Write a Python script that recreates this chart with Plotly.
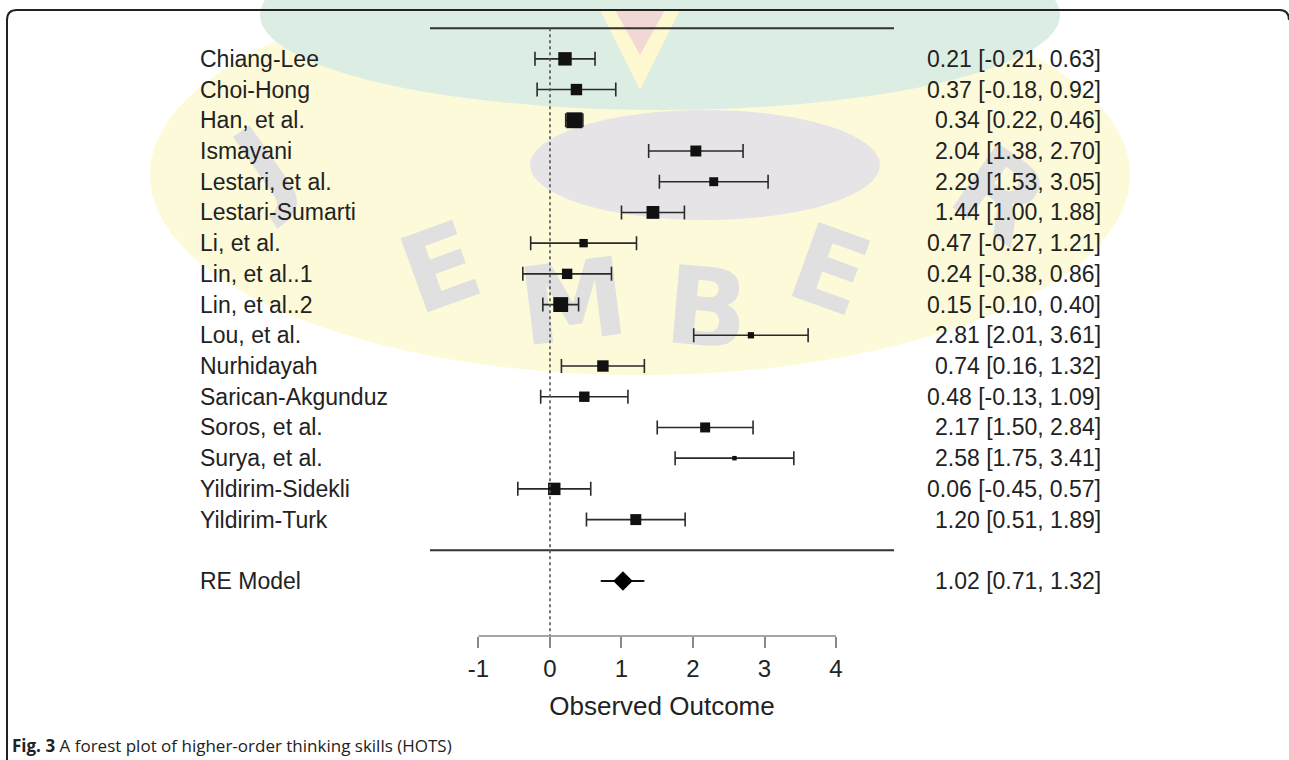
import base64
import plotly.graph_objects as go

# ---------------- data ----------------
studies = ["Chiang-Lee", "Choi-Hong", "Han, et al.", "Ismayani", "Lestari, et al.",
           "Lestari-Sumarti", "Li, et al.", "Lin, et al..1", "Lin, et al..2", "Lou, et al.",
           "Nurhidayah", "Sarican-Akgunduz", "Soros, et al.", "Surya, et al.",
           "Yildirim-Sidekli", "Yildirim-Turk"]
estimate = [0.21, 0.37, 0.34, 2.04, 2.29, 1.44, 0.47, 0.24, 0.15, 2.81,
            0.74, 0.48, 2.17, 2.58, 0.06, 1.20]
ci_low = [-0.21, -0.18, 0.22, 1.38, 1.53, 1.00, -0.27, -0.38, -0.10, 2.01,
          0.16, -0.13, 1.50, 1.75, -0.45, 0.51]
ci_high = [0.63, 0.92, 0.46, 2.70, 3.05, 1.88, 1.21, 0.86, 0.40, 3.61,
           1.32, 1.09, 2.84, 3.41, 0.57, 1.89]
weights = [9.0, 6.5, 12.6, 6.0, 4.0, 8.2, 3.5, 5.4, 11.1, 2.0,
           6.5, 5.4, 5.0, 1.0, 7.7, 6.0]  # estimated relative weights (%)
re_label = "RE Model"
re_estimate, re_low, re_high = 1.02, 0.71, 1.32
x_ticks = [-1, 0, 1, 2, 3, 4]
x_title = "Observed Outcome"
caption_bold = "Fig. 3"
caption_text = " A forest plot of higher-order thinking skills (HOTS)"

# ---------------- layout constants ----------------
W, H = 1289, 760
ML, MR, MT, MB = 430, 395, 18, 124
PW, PH = W - ML - MR, H - MT - MB
XLIM = [-1.678, 4.811]
YLIM = [-2.79, 17.33]
FONT = "Liberation Sans, Arial, Helvetica, sans-serif"
k = len(studies)
rows = list(range(k, 0, -1))
re_row = -1


def px(X, Y):
    return (X - ML) / PW, (MT + PH - Y) / PH


sizes = [4.475 * w ** 0.5 for w in weights]

fig = go.Figure()

fig.add_trace(go.Scatter(
    x=estimate, y=rows, mode="markers",
    marker=dict(symbol="square", size=sizes, color="#111111", opacity=1, line=dict(width=0)),
    error_x=dict(type="data", symmetric=False,
                 array=[h - e for h, e in zip(ci_high, estimate)],
                 arrayminus=[e - l for e, l in zip(estimate, ci_low)],
                 color="#2a2a2a", thickness=1.6, width=7),
    showlegend=False, hoverinfo="skip"))

fig.add_trace(go.Scatter(
    x=[re_low, re_high], y=[re_row, re_row], mode="lines",
    line=dict(color="#111111", width=2), showlegend=False, hoverinfo="skip"))
fig.add_trace(go.Scatter(
    x=[re_estimate], y=[re_row], mode="markers",
    marker=dict(symbol="diamond", size=15, color="#000000", opacity=1, line=dict(width=0)),
    showlegend=False, hoverinfo="skip"))

shapes = []
for yy in (k + 1, 0):
    shapes.append(dict(type="line", xref="x domain", yref="y", x0=0, x1=1, y0=yy, y1=yy,
                       line=dict(color="#333333", width=2)))
shapes.append(dict(type="line", xref="x", yref="y", x0=0, x1=0, y0=k + 1, y1=YLIM[0],
                   line=dict(color="#555555", width=1.6, dash="dot")))
shapes.append(dict(type="line", xref="x", yref="y domain", x0=x_ticks[0], x1=x_ticks[-1],
                   y0=0, y1=0, line=dict(color="#888888", width=1.6)))
pts = [px(7, 760), px(7, 20), px(7, 10), px(17, 10), px(1279, 10), px(1289, 10), px(1289, 20)]
path = ("M {0[0]},{0[1]} L {1[0]},{1[1]} Q {2[0]},{2[1]} {3[0]},{3[1]} "
        "L {4[0]},{4[1]} Q {5[0]},{5[1]} {6[0]},{6[1]}").format(*pts)
shapes.append(dict(type="path", xref="paper", yref="paper", path=path,
                   line=dict(color="#222222", width=2)))

# faint repository watermark in the background (decorative)
letters = [("J", 265, 165, -35), ("E", 440, 268, -20), ("M", 573, 302, -7),
           ("B", 707, 308, 5), ("E", 830, 270, 20), ("R", 1000, 195, 35)]
svg = [f'<svg xmlns="http://www.w3.org/2000/svg" width="{W}" height="{H}" viewBox="0 0 {W} {H}">',
       '<ellipse cx="640" cy="175" rx="490" ry="200" fill="#fcfad8"/>',
       '<ellipse cx="660" cy="15" rx="400" ry="95" fill="#dcede4"/>',
       '<ellipse cx="705" cy="165" rx="175" ry="55" fill="#e6e4e6"/>',
       '<path d="M600,10 L640,90 L680,10 Z" fill="#fdf8d0"/>',
       '<path d="M615,10 L640,55 L665,10 Z" fill="#f2d8d4"/>']
for ch, lx, ly, ang in letters:
    svg.append(f'<text x="{lx}" y="{ly}" transform="rotate({ang} {lx} {ly})" '
               'font-family="DejaVu Sans" font-weight="bold" font-size="108" fill="#e0e0e0" '
               f'text-anchor="middle" dominant-baseline="central">{ch}</text>')
svg.append('</svg>')
svg_uri = "data:image/svg+xml;base64," + base64.b64encode("".join(svg).encode()).decode()
ix, iy = px(0, 0)

annotations = []
lab_x, _ = px(198, 0)
txt_x, _ = px(1103, 0)
lab_font = dict(family=FONT, size=23, color="#222222")
for s, e, l, h, r in zip(studies, estimate, ci_low, ci_high, rows):
    annotations.append(dict(x=lab_x, y=r, xref="paper", yref="y", text=s, showarrow=False,
                            xanchor="left", yanchor="middle", font=lab_font))
    annotations.append(dict(x=txt_x, y=r, xref="paper", yref="y",
                            text=f"{e:.2f} [{l:.2f}, {h:.2f}]", showarrow=False,
                            xanchor="right", yanchor="middle", font=lab_font))
annotations.append(dict(x=lab_x, y=re_row, xref="paper", yref="y", text=re_label, showarrow=False,
                        xanchor="left", yanchor="middle", font=lab_font))
annotations.append(dict(x=txt_x, y=re_row, xref="paper", yref="y",
                        text=f"{re_estimate:.2f} [{re_low:.2f}, {re_high:.2f}]", showarrow=False,
                        xanchor="right", yanchor="middle", font=lab_font))
cx, cy = px(10, 745)
annotations.append(dict(x=cx, y=cy, xref="paper", yref="paper",
                        text=f"<b>{caption_bold}</b>{caption_text}", showarrow=False,
                        xanchor="left", yanchor="middle",
                        font=dict(family="Open Sans, Noto Sans, sans-serif", size=17, color="#222222")))

fig.update_layout(
    width=W, height=H,
    margin=dict(l=ML, r=MR, t=MT, b=MB, autoexpand=False),
    paper_bgcolor="white", plot_bgcolor="rgba(0,0,0,0)",
    shapes=shapes, annotations=annotations,
    images=[dict(source=svg_uri, xref="paper", yref="paper", x=ix, y=iy,
                 sizex=W / PW, sizey=H / PH, xanchor="left", yanchor="top",
                 sizing="stretch", layer="below")],
    xaxis=dict(range=XLIM, tickvals=x_ticks, ticktext=[str(t) for t in x_ticks],
               ticks="outside", ticklen=11, tickwidth=1.6, tickcolor="#888888",
               showline=False, showgrid=False, zeroline=False,
               tickfont=dict(family=FONT, size=24, color="#222222"),
               title=dict(text=x_title, font=dict(family=FONT, size=26, color="#222222"), standoff=16),
               fixedrange=True),
    yaxis=dict(range=YLIM, visible=False, fixedrange=True),
)

fig.write_html("out.html", config={"displayModeBar": False},
               post_script="document.body.style.margin='0';")
